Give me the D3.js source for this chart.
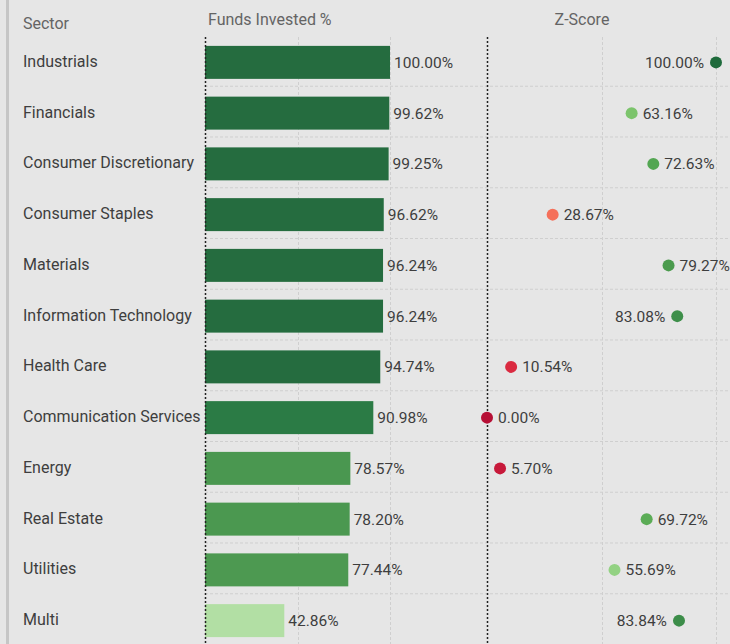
<!DOCTYPE html>
<html>
<head>
<meta charset="utf-8">
<script src="https://cdn.jsdelivr.net/npm/d3@7"></script>
<style>
  html, body { margin: 0; padding: 0; background: #e6e6e6; overflow: hidden; }
  svg { display: block; font-family: Roboto, "Open Sans", sans-serif; }
</style>
</head>
<body>
<div class="chart"></div>
<script>
"use strict";

// Data
var sectors = ["Industrials", "Financials", "Consumer Discretionary", "Consumer Staples",
    "Materials", "Information Technology", "Health Care", "Communication Services",
    "Energy", "Real Estate", "Utilities", "Multi"];
var fundsInvested = [100.00, 99.62, 99.25, 96.62, 96.24, 96.24, 94.74, 90.98, 78.57, 78.20, 77.44, 42.86];
var zScores = [100.00, 63.16, 72.63, 28.67, 79.27, 83.08, 10.54, 0.00, 5.70, 69.72, 55.69, 83.84];
var headers = ["Sector", "Funds Invested %", "Z-Score"];
var gridTicks = [0, 50, 100];

var rows = sectors.map(function (s, i) {
    return { sector: s, funds: fundsInvested[i], z: zScores[i] };
});

renderChart(rows);

function renderChart(data) {
    var width = 730;
    var height = 644;

    // Colors
    var textColor = "#3e3e3e";
    var headerColor = "#646464";
    var gridColor = "#cfcfcf";

    var barColor = d3.scaleLinear()
        .domain([42, 78, 91, 94, 100])
        .range(["#b5e1a6", "#4b9850", "#2b7b45", "#256c3f", "#256c3f"]);

    var dotColor = d3.scaleLinear()
        .domain([0, 6, 10.5, 28.7, 45, 55.7, 63.2, 70, 73, 80, 84, 100])
        .range(["#b60f35", "#c81a3a", "#da2a40", "#f5705a", "#e8d88a", "#93d283",
            "#7cc46c", "#5aab55", "#52a552", "#4a9a4c", "#3b8c49", "#1f6b3c"]);

    // Scales
    var y = d3.scaleBand()
        .domain(sectors)
        .range([37, 646])
        .paddingInner(0.35)
        .paddingOuter(0.175);

    var xBar = d3.scaleLinear().domain([0, 100]).range([205, 390]);
    var xZ = d3.scaleLinear().domain([0, 100]).range([487, 716]);

    var svg = d3.select(".chart").append("svg")
        .attr("width", width)
        .attr("height", height);

    // Left border
    svg.append("rect")
        .attr("x", 6)
        .attr("y", 0)
        .attr("width", 3)
        .attr("height", height)
        .style("fill", "#c6c6c6");

    // Horizontal gridlines between rows
    var step = y.step();
    svg.append("g")
        .selectAll("line")
        .data(d3.range(1, sectors.length))
        .join("line")
        .attr("x1", 205)
        .attr("x2", width)
        .attr("y1", function (k) { return 35.5 + k * step; })
        .attr("y2", function (k) { return 35.5 + k * step; })
        .style("stroke", gridColor)
        .style("stroke-dasharray", "3,2");

    // Vertical gridlines for both panels
    [xBar, xZ].forEach(function (x) {
        svg.append("g")
            .selectAll("line")
            .data(gridTicks.slice(1))
            .join("line")
            .attr("x1", function (d) { return Math.round(x(d)) + 0.5; })
            .attr("x2", function (d) { return Math.round(x(d)) + 0.5; })
            .attr("y1", 37)
            .attr("y2", height)
            .style("stroke", gridColor)
            .style("stroke-dasharray", "3,2");
    });

    // Headers
    svg.append("text")
        .attr("x", 23)
        .attr("y", 29)
        .style("font-size", "16px")
        .style("fill", headerColor)
        .text(headers[0]);

    svg.append("text")
        .attr("x", 208)
        .attr("y", 25)
        .style("font-size", "16px")
        .style("fill", headerColor)
        .text(headers[1]);

    svg.append("text")
        .attr("x", 582)
        .attr("y", 25)
        .attr("text-anchor", "middle")
        .style("font-size", "16px")
        .style("fill", headerColor)
        .text(headers[2]);

    // Sector labels
    svg.append("g")
        .selectAll("text")
        .data(data)
        .join("text")
        .attr("x", 23)
        .attr("y", function (d) { return y(d.sector) + y.bandwidth() / 2 - 1; })
        .attr("dy", "0.35em")
        .style("font-size", "16px")
        .style("fill", textColor)
        .text(function (d) { return d.sector; });

    // Bars
    svg.append("g")
        .selectAll("rect")
        .data(data)
        .join("rect")
        .attr("x", xBar(0))
        .attr("y", function (d) { return y(d.sector); })
        .attr("width", function (d) { return xBar(d.funds) - xBar(0); })
        .attr("height", y.bandwidth())
        .style("fill", function (d) { return barColor(d.funds); });

    svg.append("g")
        .selectAll("text")
        .data(data)
        .join("text")
        .attr("x", function (d) { return xBar(d.funds) + 4; })
        .attr("y", function (d) { return y(d.sector) + y.bandwidth() / 2; })
        .attr("dy", "0.35em")
        .style("font-size", "15.5px")
        .style("fill", textColor)
        .text(function (d) { return d.funds.toFixed(2) + "%"; });

    // Zero lines (dotted)
    [xBar, xZ].forEach(function (x) {
        svg.append("line")
            .attr("x1", Math.round(x(0)) + 0.5)
            .attr("x2", Math.round(x(0)) + 0.5)
            .attr("y1", 37)
            .attr("y2", height)
            .style("stroke", "#222222")
            .style("stroke-width", 1.5)
            .style("stroke-dasharray", "2,2");
    });

    // Z-score dots
    svg.append("g")
        .selectAll("circle")
        .data(data)
        .join("circle")
        .attr("cx", function (d) { return xZ(d.z); })
        .attr("cy", function (d) { return y(d.sector) + y.bandwidth() / 2; })
        .attr("r", 6)
        .style("fill", function (d) { return dotColor(d.z); });

    svg.append("g")
        .selectAll("text")
        .data(data)
        .join("text")
        .attr("x", function (d) { return d.z > 80 ? xZ(d.z) - 12 : xZ(d.z) + 11; })
        .attr("y", function (d) { return y(d.sector) + y.bandwidth() / 2; })
        .attr("dy", "0.35em")
        .attr("text-anchor", function (d) { return d.z > 80 ? "end" : "start"; })
        .style("font-size", "15.5px")
        .style("fill", textColor)
        .text(function (d) { return d.z.toFixed(2) + "%"; });
}
</script>
</body>
</html>
